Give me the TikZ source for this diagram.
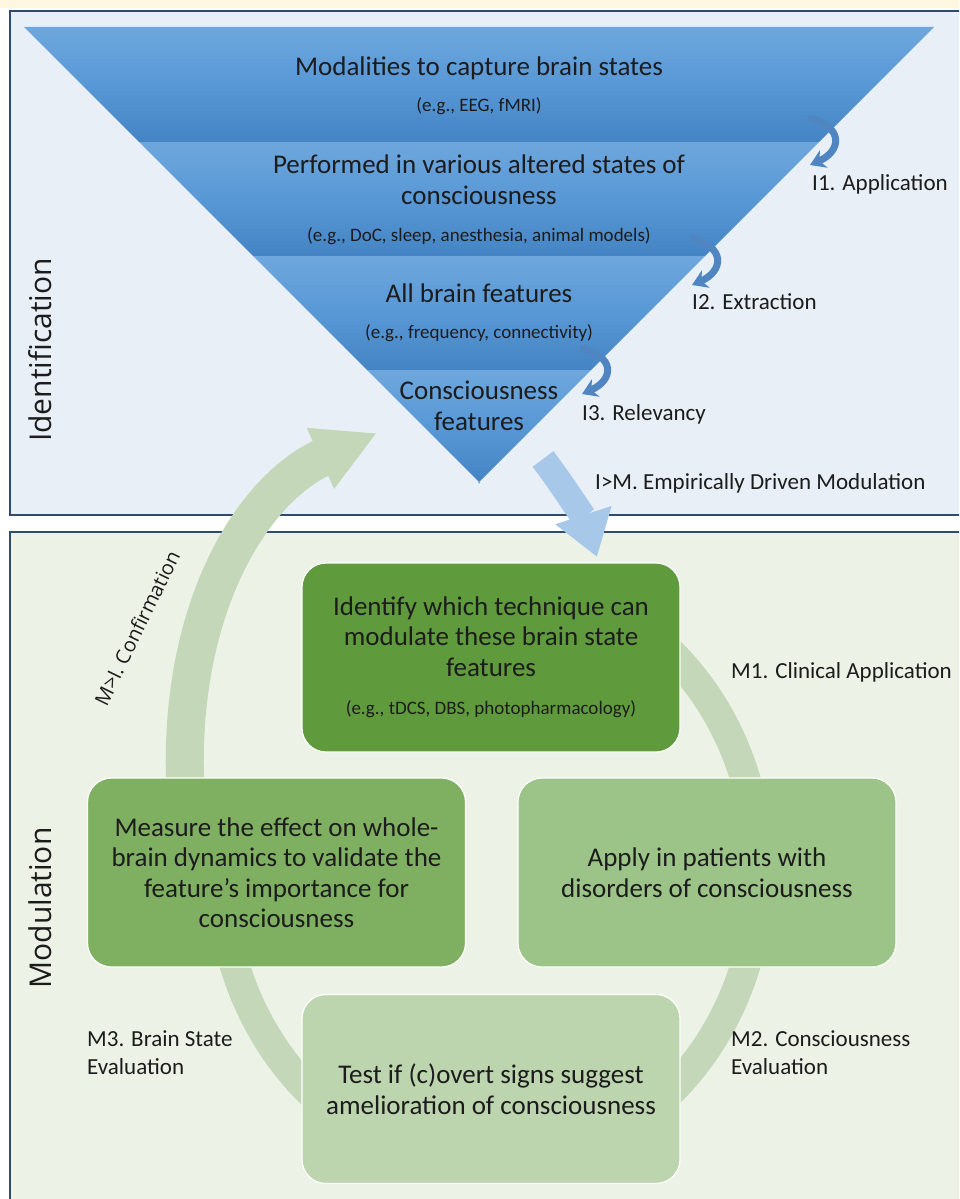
\documentclass[tikz,border=0pt]{standalone}
\usepackage{fontspec}
\setmainfont{Carlito}
\newfontfamily\sidefont{Open Sans}
\usetikzlibrary{arrows.meta}

\definecolor{creamstrip}{HTML}{FFF7E0}
\definecolor{idfill}{HTML}{E8EFF7}
\definecolor{modfill}{HTML}{ECF2E6}
\definecolor{frame}{HTML}{2F4B6E}
\definecolor{bandtop}{HTML}{6EA7DD}
\definecolor{bandmid}{HTML}{5898D6}
\definecolor{bandbot}{HTML}{4584C4}
\definecolor{curlblue}{HTML}{4F86C1}
\definecolor{imblue}{HTML}{A8C8EA}
\definecolor{cyclegreen}{HTML}{C4D8B9}
\definecolor{boxA}{HTML}{5F9B3C}
\definecolor{boxB}{HTML}{7FB062}
\definecolor{boxC}{HTML}{9DC488}
\definecolor{boxD}{HTML}{BDD5AF}
\definecolor{inktext}{HTML}{1C1C1C}

\newcommand\bigtxt{\fontsize{27}{31}\selectfont}
\newcommand\smalltxt{\fontsize{19}{23}\selectfont}
\newcommand\lbltxt{\fontsize{23}{28}\selectfont}

\begin{document}
\begin{tikzpicture}[x=1pt,y=-1pt]
  \tikzset{panel/.style={draw=frame,line width=2pt},
           tier/.style={align=center,font=\bigtxt,text=inktext},
           modbox/.style={rounded corners=24pt,draw=white,line width=1.2pt,
             minimum width=378pt,minimum height=189pt,align=center,
             font=\fontsize{27}{30.5}\selectfont,text=inktext},
           lbl/.style={font=\lbltxt,text=inktext,inner sep=0pt},
           sidelbl/.style={font=\sidefont\fontsize{30}{36}\selectfont,text=inktext,rotate=90},
           curl/.style={draw=curlblue,line width=7pt,-{Stealth[length=15pt,width=19pt]}},
           emparrow/.style={draw=imblue,line width=26pt,-{Triangle[length=44pt,width=56pt]}},
           confarrow/.style={draw=cyclegreen,line width=38pt,-{Triangle[length=62pt,width=62pt]}},
           cyclearc/.style={draw=cyclegreen,line width=30pt}}
  \clip (0,0) rectangle (959,1199);
  \fill[white] (0,0) rectangle (959,1199);
  \fill[creamstrip] (0,0) rectangle (959,8);
  \draw[panel,fill=idfill] (10,11) rectangle (980,515);
  \draw[panel,fill=modfill] (10,532) rectangle (980,1220);

  \foreach \ya/\yb in {27/142,142/256,256/370,370/483}
    \shade[top color=bandtop,bottom color=bandbot,middle color=bandmid]
      ({24+\ya-27},\ya) -- ({934-\ya+27},\ya) -- ({934-\yb+27},\yb) -- ({24+\yb-27},\yb) -- cycle;

  \node[tier] (tierA) at (479,86) {Modalities to capture brain states\\[5pt]{\smalltxt (e.g., EEG, fMRI)}};
  \node[tier] (tierB) at (479,200) {Performed in various altered states of\\consciousness\\[6pt]{\smalltxt (e.g., DoC, sleep, anesthesia, animal models)}};
  \node[tier] (tierC) at (479,313) {All brain features\\[5pt]{\smalltxt (e.g., frequency, connectivity)}};
  \node[tier] (tierD) at (479,406) {Consciousness\\features};

  \coordinate (applS) at (808,118); \coordinate (applE) at (810,165);
  \coordinate (extrS) at (690,238); \coordinate (extrE) at (692,285);
  \coordinate (relvS) at (580,348); \coordinate (relvE) at (582,394);
  \draw[curl] (applS) .. controls +(36,8) and +(32,-14) .. (applE);
  \draw[curl] (extrS) .. controls +(36,8) and +(32,-14) .. (extrE);
  \draw[curl] (relvS) .. controls +(36,8) and +(32,-14) .. (relvE);

  \node[lbl,anchor=base west] (appl) at (812,190) {I1. Application};
  \node[lbl,anchor=base west] (extr) at (692,309) {I2. Extraction};
  \node[lbl,anchor=base west] (relv) at (582,420) {I3. Relevancy};
  \node[lbl,anchor=base west] (empir) at (595,489) {I>M. Empirically Driven Modulation};

  \coordinate (empS) at (543,459); \coordinate (empE) at (597,557);
  \draw[emparrow] (empS) .. controls (560,481) and (585,520) .. (empE);

  \node[sidelbl] (ident) at (40,350) {Identification};
  \node[sidelbl] (modul) at (40,908) {Modulation};

  \draw[cyclearc] (490,872) ++(-50:269 and 296) arc[start angle=-50,end angle=165,x radius=269,y radius=296];

  \coordinate (confS) at (186,800); \coordinate (confE) at (377,433);
  \draw[confarrow] (confS) .. controls (174,615) and (250,490) .. (confE);
  \node[font=\sidefont\fontsize{20}{24}\selectfont,text=inktext,rotate=64] (confl) at (137,628) {M>I. Confirmation};

  \node[modbox,fill=boxA] (techn) at (491,657.5) {Identify which technique can\\modulate these brain state\\features\\[8pt]{\smalltxt (e.g., tDCS, DBS, photopharmacology)}};
  \node[modbox,fill=boxB] (measr) at (276.5,872.5) {Measure the effect on whole-\\brain dynamics to validate the\\feature’s importance for\\consciousness};
  \node[modbox,fill=boxC] (apply) at (707,872.5) {Apply in patients with\\disorders of consciousness};
  \node[modbox,fill=boxD] (testc) at (491,1089) {Test if (c)overt signs suggest\\amelioration of consciousness};

  \node[lbl,anchor=base west] (clin) at (731,678) {M1. Clinical Application};
  \node[lbl,anchor=west,align=left] (cons) at (731,1053) {M2. Consciousness\\Evaluation};
  \node[lbl,anchor=west,align=left] (brst) at (87,1053) {M3. Brain State\\Evaluation};
\end{tikzpicture}
\end{document}
